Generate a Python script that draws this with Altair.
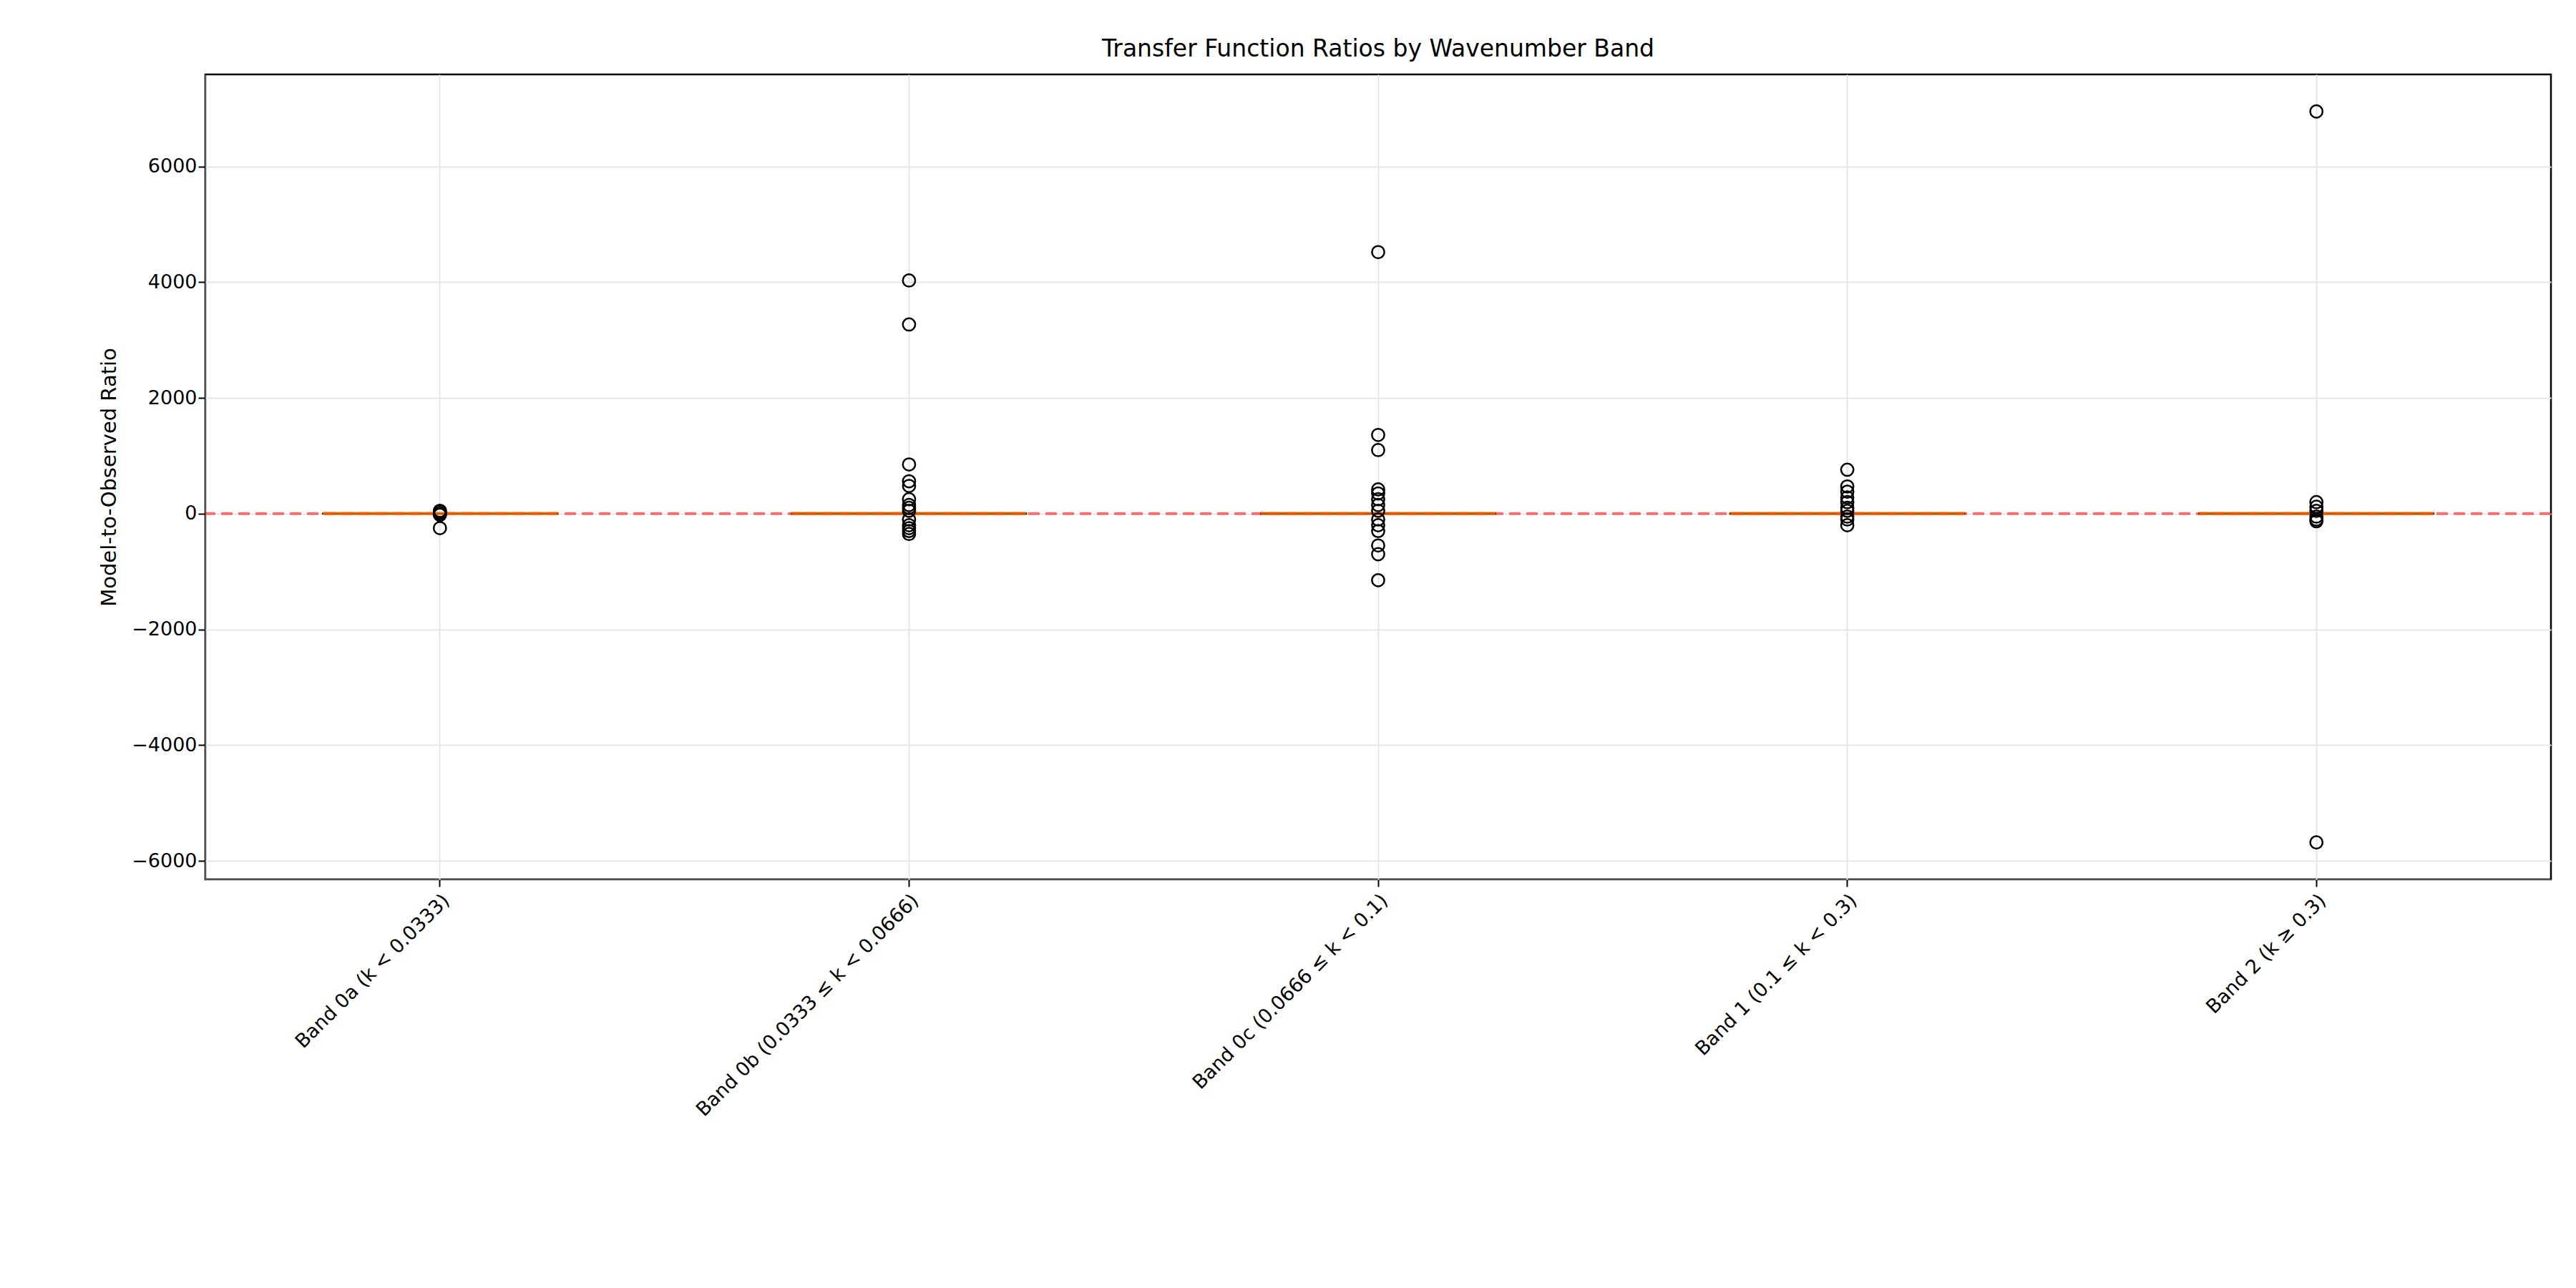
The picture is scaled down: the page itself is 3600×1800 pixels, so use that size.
import altair as alt
import pandas as pd

bands = ["Band 0a (k < 0.0333)", "Band 0b (0.0333 ≤ k < 0.0666)",
         "Band 0c (0.0666 ≤ k < 0.1)", "Band 1 (0.1 ≤ k < 0.3)", "Band 2 (k ≥ 0.3)"]
outliers = [
    [50, 30, 0, -20, -250],
    [4030, 3270, 850, 560, 480, 250, 150, 100, 50, -100, -200, -250, -300, -350],
    [4520, 1360, 1100, 420, 350, 250, 150, 50, -100, -200, -300, -550, -700, -1150],
    [760, 470, 380, 280, 200, 100, 50, -50, -100, -200],
    [6950, 200, 120, 50, -50, -100, -130, -5680],
]
q1 = [-3, -5, -5, -4, -5]
median = [1, 1, 1, 1, 1]
q3 = [5, 6, 6, 6, 6]

pts = pd.DataFrame([{"band": b, "v": v} for b, vals in zip(bands, outliers) for v in vals])
box = pd.DataFrame({"band": bands, "q1": q1, "q3": q3, "med": median})

W, H = 3278, 1125
x = alt.X("band:N", sort=bands, title=None,
          scale=alt.Scale(paddingInner=0, paddingOuter=0),
          axis=alt.Axis(labelAngle=-45, labelFontSize=27, labelColor="black", labelLimit=0,
                        grid=True, gridColor="#e6e6e6", gridWidth=2,
                        tickSize=10, tickWidth=2, tickColor="black",
                        labelAlign="right", labelBaseline="top", labelPadding=6))
yscale = alt.Scale(domain=[-6320, 7590], nice=False, zero=False)
yaxis = alt.Axis(values=[-6000, -4000, -2000, 0, 2000, 4000, 6000],
                 labelExpr="replace(format(datum.value, 'd'), '-', '\u2212')",
                 labelFontSize=27, labelColor="black", titleFontSize=29,
                 titleFontWeight="normal", titleColor="black", titlePadding=16,
                 grid=True, gridColor="#e6e6e6", gridWidth=2,
                 tickSize=10, tickWidth=2, tickColor="black")

boxes = alt.Chart(box).mark_bar(size=W / 5 * 0.5, fill="white", stroke="black", strokeWidth=2).encode(
    x=x, y=alt.Y("q1:Q", scale=yscale, axis=yaxis, title="Model-to-Observed Ratio"), y2="q3:Q")
med = alt.Chart(box).mark_tick(color="#ff7f0e", size=W / 5 * 0.5, thickness=5, orient="horizontal").encode(
    x=x, y=alt.Y("med:Q", scale=yscale))
zero = alt.Chart(pd.DataFrame({"z": [0]})).mark_rule(
    color="red", opacity=0.55, strokeDash=[16, 8], strokeWidth=4).encode(y=alt.Y("z:Q", scale=yscale))
points = alt.Chart(pts).mark_point(shape="circle", size=300, filled=False,
                                   color="black", strokeWidth=2.5, opacity=1).encode(
    x=x, y=alt.Y("v:Q", scale=yscale))

chart = alt.layer(boxes, zero, med, points).properties(
    width=W, height=H,
    padding={"left": 130, "top": 45, "right": 5, "bottom": 5},
    title=alt.TitleParams("Transfer Function Ratios by Wavenumber Band",
                          fontSize=33, fontWeight="normal", color="black", offset=18),
).configure(font="DejaVu Sans").configure_view(stroke="black", strokeWidth=2.5)

chart.save("out.html", embed_options={"renderer": "svg", "actions": False})
